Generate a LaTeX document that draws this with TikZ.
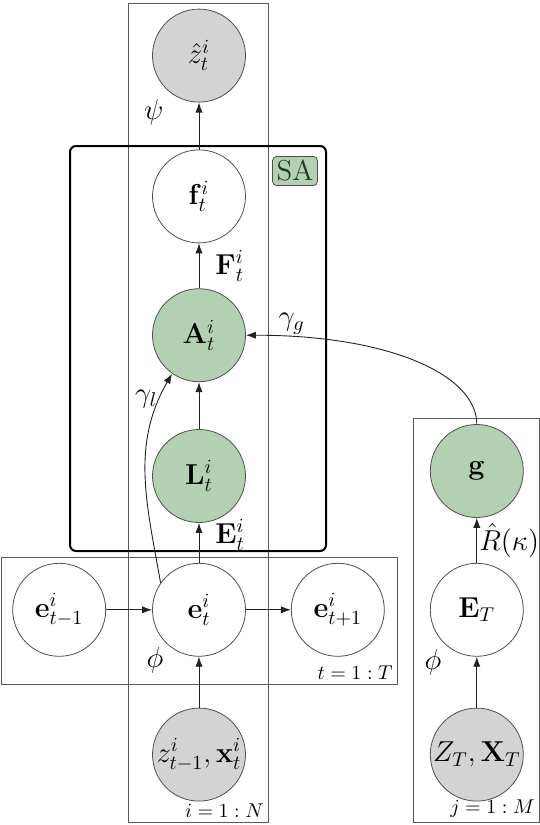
\documentclass[tikz,border=0pt]{standalone}
\usepackage{amsmath}
\usetikzlibrary{
  arrows.meta,
  positioning
}
\definecolor{ink}{HTML}{222222}
\definecolor{platedraw}{HTML}{5A5A5A}
\definecolor{nodeline}{HTML}{4F4F4F}
\definecolor{sagreen}{HTML}{B3D1B2}
\definecolor{obsgrey}{HTML}{D3D3D3}
\definecolor{sadark}{HTML}{1F3B1F}
\tikzset{
  latent/.style={
    circle,
    draw=nodeline,
    fill=white,
    line width=0.4pt,
    minimum size=46.5pt,
    inner sep=0pt,
    font=\Large
  },
  observed/.style={
    latent,
    fill=obsgrey
  },
  attnnode/.style={
    latent,
    fill=sagreen
  },
  flow/.style={
    -{Latex[length=5pt,width=3.6pt]},
    line width=0.45pt,
    draw=ink
  },
  plate/.style={
    draw=platedraw,
    line width=0.5pt
  },
  sabox/.style={
    draw=black,
    line width=1pt,
    rounded corners=3pt
  },
  salabel/.style={
    draw=nodeline,
    fill=sagreen,
    rounded corners=2pt,
    inner sep=2pt,
    font=\Large,
    text=sadark
  },
  paramlabel/.style={
    inner sep=1pt,
    font=\Large
  },
  platelabel/.style={
    inner sep=2pt,
    font=\normalsize
  }
}

\begin{document}
\begin{tikzpicture}[x=0.5pt, y=0.5pt]
  \useasboundingbox (0,0) rectangle (540,-825);

  % plates and the self-attention block
  \draw[plate] (128,-3) rectangle (268,-822);
  \draw[plate] (1,-557) rectangle (397,-684);
  \draw[plate] (413,-418) rectangle (539,-822);
  \draw[sabox] (70,-146) rectangle (326,-551);

  % agent column
  \node[attnnode] (loc) at (199,-476) {$\mathbf{L}_t^i$};
  \node[attnnode, above=23.5pt of loc] (att) {$\mathbf{A}_t^i$};
  \node[latent, above=22.5pt of att] (feat) {$\mathbf{f}_t^i$};
  \node[observed, above=23.5pt of feat] (zhat) {$\hat{z}_t^i$};
  \node[latent, below=20pt of loc] (emb) {$\mathbf{e}_t^i$};
  \node[observed, below=25.5pt of emb] (obs) {$z_{t-1}^i, \mathbf{x}_t^i$};
  \node[latent, left=23pt of emb] (embprev) {$\mathbf{e}_{t-1}^i$};
  \node[latent, right=22.5pt of emb] (embnext) {$\mathbf{e}_{t+1}^i$};

  % global column
  \node[latent, right=92pt of emb] (embT) {$\mathbf{E}_T$};
  \node[attnnode, above=22.5pt of embT] (glob) {$\mathbf{g}$};
  \node[observed, below=25.5pt of embT] (obsT) {$Z_T, \mathbf{X}_T$};

  \draw[flow] (feat) -- (zhat);
  \draw[flow] (att) --
    node[paramlabel, right=7pt, pos=0.5] {$\mathbf{F}_t^i$} (feat);
  \draw[flow] (loc) -- (att);
  \draw[flow] (emb) --
    node[paramlabel, right=7pt, pos=0.7] {$\mathbf{E}_t^i$} (loc);
  \draw[flow] (obs) -- (emb);
  \draw[flow] (embprev) -- (emb);
  \draw[flow] (emb) -- (embnext);
  \draw[flow] (emb.145) to[out=100, in=240]
    node[paramlabel, pos=0.88, left=0pt] {$\gamma_l$} (att.235);
  \draw[flow] (glob.north)
    to[out=90, in=0, out looseness=0.5, in looseness=1.5]
    node[paramlabel, pos=0.89, above=0pt] {$\gamma_g$} (att.east);
  \draw[flow] (obsT) -- (embT);
  \draw[flow] (embT) --
    node[paramlabel, right=0pt] {$\hat{R}(\kappa)$} (glob);

  % parameters and plate labels
  \node[paramlabel, below left=4pt and 0pt of zhat.225] (psi) {$\psi$};
  \node[paramlabel, below left=1pt and 0pt of emb.225] (phie) {$\phi$};
  \node[paramlabel, below left=2pt and 0pt of embT.225] (phiT) {$\phi$};
  \node[salabel] (salbl) at (295,-171) {SA};
  \node[platelabel, anchor=south east] (lblt) at (397,-684) {$t=1:T$};
  \node[platelabel, anchor=south east] (lbli) at (268,-822) {$i=1:N$};
  \node[platelabel, anchor=south east] (lblj) at (539,-822) {$j=1:M$};
\end{tikzpicture}
\end{document}
